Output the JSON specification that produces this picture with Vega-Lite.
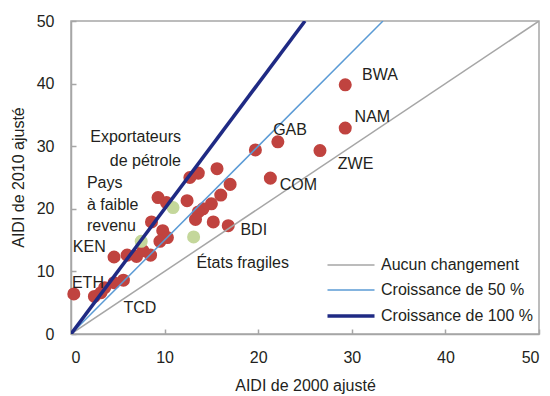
{
  "$schema": "https://vega.github.io/schema/vega-lite/v6.json",
  "width": 468,
  "height": 313,
  "autosize": {"type": "none"},
  "padding": {"left": 71, "top": 21, "right": 11, "bottom": 62},
  "background": "white",
  "config": {
    "font": "Liberation Sans",
    "view": {"stroke": "#a6a6a6", "strokeWidth": 1.5},
    "axis": {
      "grid": false,
      "domainColor": "#a6a6a6",
      "domainWidth": 1.5,
      "tickColor": "#a6a6a6",
      "tickWidth": 1.5,
      "tickSize": -5,
      "labelFontSize": 16,
      "labelColor": "#231f20",
      "titleFontSize": 16,
      "titleFontWeight": "normal",
      "titleColor": "#231f20"
    }
  },
  "datasets": {
    "red": [
      {"pays": "BWA", "x2000": 29.3, "x2010": 39.8},
      {"pays": "NAM", "x2000": 29.3, "x2010": 32.9},
      {"pays": "ZWE", "x2000": 26.6, "x2010": 29.3},
      {"pays": "GAB", "x2000": 22.1, "x2010": 30.7},
      {"pays": "a1", "x2000": 19.7, "x2010": 29.4},
      {"pays": "COM", "x2000": 21.3, "x2010": 24.9},
      {"pays": "a2", "x2000": 17.0, "x2010": 23.9},
      {"pays": "a3", "x2000": 15.6, "x2010": 26.4},
      {"pays": "a4", "x2000": 13.6, "x2010": 25.7},
      {"pays": "a5", "x2000": 12.7, "x2010": 25.0},
      {"pays": "a6", "x2000": 16.0, "x2010": 22.2},
      {"pays": "a7", "x2000": 12.4, "x2010": 21.3},
      {"pays": "a8", "x2000": 15.0, "x2010": 20.8},
      {"pays": "a9", "x2000": 14.1, "x2010": 20.0},
      {"pays": "a10", "x2000": 13.6, "x2010": 19.5},
      {"pays": "a11", "x2000": 13.3, "x2010": 18.3},
      {"pays": "a12", "x2000": 15.2, "x2010": 17.9},
      {"pays": "BDI", "x2000": 16.8, "x2010": 17.3},
      {"pays": "a13", "x2000": 9.3, "x2010": 21.8},
      {"pays": "a14", "x2000": 10.2, "x2010": 21.0},
      {"pays": "a15", "x2000": 8.6, "x2010": 17.9},
      {"pays": "a16", "x2000": 9.8, "x2010": 16.5},
      {"pays": "a17", "x2000": 10.3, "x2010": 15.4},
      {"pays": "a18", "x2000": 9.5, "x2010": 14.8},
      {"pays": "KEN", "x2000": 4.6, "x2010": 12.3},
      {"pays": "a19", "x2000": 6.0, "x2010": 12.6},
      {"pays": "a20", "x2000": 7.0, "x2010": 12.4},
      {"pays": "a21", "x2000": 7.7, "x2010": 13.3},
      {"pays": "a22", "x2000": 8.5, "x2010": 12.6},
      {"pays": "a23", "x2000": 5.6, "x2010": 8.6},
      {"pays": "a24", "x2000": 4.6, "x2010": 8.2},
      {"pays": "a25", "x2000": 3.6, "x2010": 7.4},
      {"pays": "a26", "x2000": 2.5, "x2010": 6.0},
      {"pays": "TCD", "x2000": 3.2, "x2010": 6.6},
      {"pays": "ETH", "x2000": 0.3, "x2010": 6.4}
    ],
    "green": [
      {"groupe": "g1", "x2000": 10.9, "x2010": 20.2},
      {"groupe": "g2", "x2000": 7.5, "x2010": 14.8},
      {"groupe": "g3", "x2000": 13.1, "x2010": 15.5}
    ],
    "lines": [
      {"serie": "Aucun changement", "x2000": 0, "x2010": 0},
      {"serie": "Aucun changement", "x2000": 50, "x2010": 50},
      {"serie": "Croissance de 50 %", "x2000": 0, "x2010": 0},
      {"serie": "Croissance de 50 %", "x2000": 33.33, "x2010": 50},
      {"serie": "Croissance de 100 %", "x2000": 0, "x2010": 0},
      {"serie": "Croissance de 100 %", "x2000": 25, "x2010": 50}
    ],
    "labelsLeft": [
      {"texte": "BWA", "x2000": 31.1, "x2010": 41.4},
      {"texte": "NAM", "x2000": 30.3, "x2010": 34.7},
      {"texte": "ZWE", "x2000": 28.5, "x2010": 27.2},
      {"texte": "GAB", "x2000": 21.6, "x2010": 32.6},
      {"texte": "COM", "x2000": 22.3, "x2010": 23.8},
      {"texte": "BDI", "x2000": 18.1, "x2010": 16.6},
      {"texte": "États fragiles", "x2000": 13.4, "x2010": 11.3},
      {"texte": "TCD", "x2000": 5.6, "x2010": 4.2},
      {"texte": "ETH", "x2000": 0.1, "x2010": 8.1},
      {"texte": "KEN", "x2000": 0.2, "x2010": 13.9},
      {"texte": "Pays", "x2000": 1.7, "x2010": 24.1},
      {"texte": "à faible", "x2000": 1.7, "x2010": 20.6},
      {"texte": "revenu", "x2000": 1.7, "x2010": 17.3}
    ],
    "labelsRight": [
      {"texte": "Exportateurs", "x2000": 11.75, "x2010": 31.5},
      {"texte": "de pétrole", "x2000": 11.75, "x2010": 27.6}
    ]
  },
  "layer": [
    {
      "data": {"name": "red"},
      "mark": {"type": "circle", "size": 170, "opacity": 1, "color": "#c0433f"},
      "encoding": {
        "x": {"field": "x2000", "type": "quantitative", "scale": {"domain": [0, 50], "nice": false},
          "axis": {"values": [0, 10, 20, 30, 40, 50], "title": "AIDI de 2000 ajusté", "labelPadding": 20, "titleX": 234, "titleY": 51, "titleBaseline": "middle", "titleAlign": "center"}},
        "y": {"field": "x2010", "type": "quantitative", "scale": {"domain": [0, 50], "nice": false},
          "axis": {"values": [0, 5, 10, 15, 20, 25, 30, 35, 40, 45, 50], "title": "AIDI de 2010 ajusté", "labelPadding": 22, "titleX": -53, "titleY": 156, "titleAngle": -90, "titleBaseline": "middle", "titleAlign": "center"}}
      }
    },
    {
      "data": {"name": "green"},
      "mark": {"type": "circle", "size": 170, "opacity": 1, "color": "#c4d79b"},
      "encoding": {
        "x": {"field": "x2000", "type": "quantitative"},
        "y": {"field": "x2010", "type": "quantitative"}
      }
    },
    {
      "data": {"name": "lines"},
      "mark": {"type": "line", "clip": true},
      "encoding": {
        "x": {"field": "x2000", "type": "quantitative"},
        "y": {"field": "x2010", "type": "quantitative"},
        "color": {"field": "serie", "type": "nominal",
          "scale": {"domain": ["Aucun changement", "Croissance de 50 %", "Croissance de 100 %"], "range": ["#a6a6a6", "#5b9bd5", "#1f2a84"]},
          "legend": {"title": null, "orient": "none", "legendX": 268, "legendY": 233, "symbolType": "M-2.35,0H2.35", "symbolSize": 400, "labelFontSize": 16, "labelColor": "#231f20", "labelOffset": 18, "rowPadding": 6}},
        "strokeWidth": {"field": "serie", "type": "nominal",
          "scale": {"type": "ordinal", "domain": ["Aucun changement", "Croissance de 50 %", "Croissance de 100 %"], "range": [1.5, 1.5, 3.5]},
          "legend": {"title": null, "orient": "none", "legendX": 268, "legendY": 233, "symbolType": "M-2.35,0H2.35", "symbolSize": 400, "labelFontSize": 16, "labelColor": "#231f20", "labelOffset": 18, "rowPadding": 6}}
      }
    },
    {
      "data": {"name": "labelsLeft"},
      "mark": {"type": "text", "align": "left", "baseline": "middle", "fontSize": 16, "color": "#231f20"},
      "encoding": {
        "x": {"field": "x2000", "type": "quantitative"},
        "y": {"field": "x2010", "type": "quantitative"},
        "text": {"field": "texte"}
      }
    },
    {
      "data": {"name": "labelsRight"},
      "mark": {"type": "text", "align": "right", "baseline": "middle", "fontSize": 16, "color": "#231f20"},
      "encoding": {
        "x": {"field": "x2000", "type": "quantitative"},
        "y": {"field": "x2010", "type": "quantitative"},
        "text": {"field": "texte"}
      }
    }
  ]
}
